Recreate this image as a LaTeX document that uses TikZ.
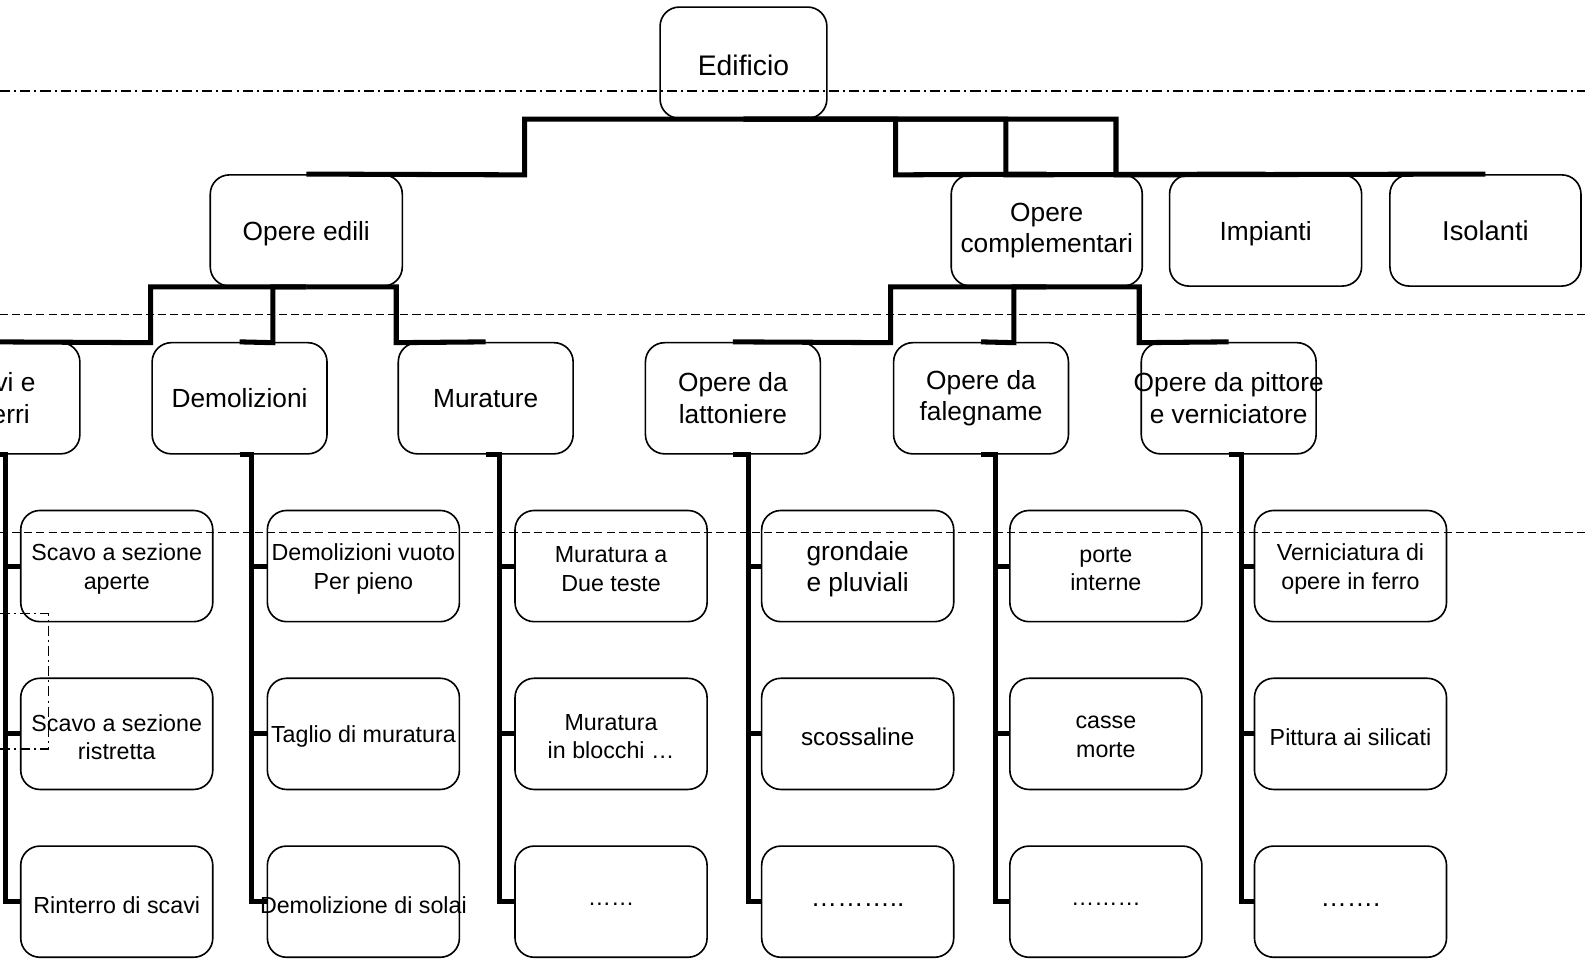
\documentclass[tikz,border=0pt]{standalone}
\usepackage{fontspec}
\setmainfont{Liberation Sans}
\begin{document}
\begin{tikzpicture}[x=1pt,y=-1pt,
  box/.style={draw, rounded corners=19pt, line width=1.6pt, minimum height=110pt, inner sep=0pt},
  lbl/.style={align=center, inner sep=0pt, font=\fontsize{26}{31}\selectfont},
  low/.style={yshift=-3pt},
  leaf/.style={low, font=\fontsize{23}{28}\selectfont},
  link/.style={line width=5pt, line join=miter},
  band/.style={line width=1.3pt},
  dashdot/.style={band, dash pattern=on 10pt off 4pt on 2pt off 4pt},
  dashline/.style={band, dash pattern=on 8pt off 4pt},
]
\clip (0,0) rectangle (1568,949);

% box with its centred label: [label style] name, centre, width, text
\newcommand\mkbox[5][]{%
  \node[box, minimum width=#4pt] (#2) at (#3) {};
  \node[lbl,#1] (#2-t) at (#2.center) {#5};}

% level 1 and 2
\mkbox[low, font=\fontsize{28}{33}\selectfont]{edif}{735.5,62}{165}{Edificio}
\mkbox[low]{oe}{303,228}{190}{Opere edili}
\mkbox{oc}{1035.5,228}{189}{Opere\\complementari}
\mkbox[low]{imp}{1252,228}{190}{Impianti}
\mkbox[font=\fontsize{27}{32}\selectfont]{iso}{1469.5,228}{189}{Isolanti}

% level 3
\mkbox{scavi}{-7.5,394}{173}{Scavi e\\rinterri}
\mkbox{dem}{237,394}{173}{Demolizioni}
\mkbox{mur}{480.5,394}{173}{Murature}
\mkbox{latt}{725,394}{173}{Opere da\\lattoniere}
\mkbox{fal}{970.5,394}{173}{Opere da\\falegname}
\mkbox{pit}{1215.5,394}{173}{Opere da pittore\\e verniciatore}

% level 4
\mkbox[leaf]{a1}{115.5,560}{190}{Scavo a sezione\\aperte}
\mkbox[leaf]{a2}{115.5,726}{190}{Scavo a sezione\\ristretta}
\mkbox[leaf]{a3}{115.5,892}{190}{Rinterro di scavi}
\mkbox[leaf]{b1}{359.5,560}{190}{Demolizioni vuoto\\Per pieno}
\mkbox[leaf]{b2}{359.5,726}{190}{Taglio di muratura}
\mkbox[leaf]{b3}{359.5,892}{190}{Demolizione di solai}
\mkbox[leaf]{c1}{604.5,560}{190}{Muratura a\\Due teste}
\mkbox[leaf]{c2}{604.5,726}{190}{Muratura\\in blocchi …}
\mkbox[leaf]{c3}{604.5,892}{190}{……}
\mkbox[low]{d1}{848.5,560}{190}{grondaie\\e pluviali}
\mkbox[low, font=\fontsize{24}{29}\selectfont]{d2}{848.5,726}{190}{scossaline}
\mkbox[low]{d3}{848.5,892}{190}{………..}
\mkbox[leaf]{e1}{1094,560}{190}{porte\\interne}
\mkbox[leaf]{e2}{1094,726}{190}{casse\\morte}
\mkbox[leaf]{e3}{1094,892}{190}{………}
\mkbox[leaf]{f1}{1336,560}{190}{Verniciatura di\\opere in ferro}
\mkbox[leaf]{f2}{1336,726}{190}{Pittura ai silicati}
\mkbox[low]{f3}{1336,892}{190}{…….}

% connectors from the root
\draw[link] (edif.south) -| (519,173) -- (oe.north);
\draw[link] (edif.south) -| (886,173) -- (oc.north);
\draw[link] (edif.south) -| (995,173) -- (imp.north);
\draw[link] (edif.south) -| (1104,173) -- (iso.north);

% connectors to level 3
\draw[link] (oe.south) -| (149,339) -- (scavi.north);
\draw[link] (oe.south) -| (270,339) -- (dem.north);
\draw[link] (oe.south) -| (392,339) -- (mur.north);
\draw[link] (oc.south) -| (881,339) -- (latt.north);
\draw[link] (oc.south) -| (1003,339) -- (fal.north);
\draw[link] (oc.south) -| (1127,339) -- (pit.north);

% trunks down to level 4
\foreach \p/\t/\c in {scavi/5/a, dem/249/b, mur/494/c, latt/740/d, fal/985/e, pit/1228/f}{
  \foreach \r/\y in {1/560, 2/726, 3/892}{
    \draw[link] (\p.south) -| (\t,\y) -- (\c\r.west);
  }
}

% level bands
\draw[dashdot] (0,90) -- (1568,90);
\draw[dashline] (0,311) -- (1568,311);
\draw[dashline] (0,527) -- (1568,527);
\draw[dashdot] (-20,607) -| (48,741) -- (-20,741);
\end{tikzpicture}
\end{document}
